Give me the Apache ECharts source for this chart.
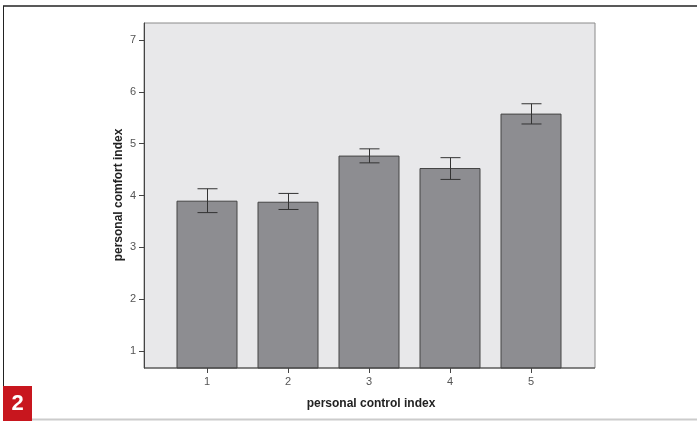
<!DOCTYPE html>
<html>
<head>
<meta charset="utf-8">
<script src="https://cdn.jsdelivr.net/npm/echarts@6/dist/echarts.min.js"></script>
<style>
  html, body { margin: 0; padding: 0; background: #ffffff; }
  #chart { width: 697px; height: 421px; }
</style>
</head>
<body>
<div id="chart"></div>
<script>
// Personal comfort by personal control level: means with error bars
const categories = ['1', '2', '3', '4', '5'];
const meanComfort = [3.90, 3.88, 4.77, 4.53, 5.58];
const errUpper = [4.13, 4.04, 4.90, 4.73, 5.77];
const errLower = [3.67, 3.73, 4.63, 4.31, 5.38];
const yTicks = [1, 2, 3, 4, 5, 6, 7];

const Y_MIN = 0.672, Y_MAX = 7.328;
const AXIS_FONT = 'Liberation Sans, Arial, sans-serif';

const chart = echarts.init(document.getElementById('chart'), null, { renderer: 'canvas' });

const errorData = categories.map((c, i) => [i, errLower[i], errUpper[i]]);

chart.setOption({
  animation: false,
  backgroundColor: '#ffffff',
  grid: [
    // plot frame with y axis
    { left: 144, top: 23, width: 451, height: 345, show: true,
      backgroundColor: '#e8e8ea', borderColor: '#8a8a8a', borderWidth: 1 },
    // band area holding the bars
    { left: 166.5, top: 23, width: 405, height: 345 }
  ],
  xAxis: [
    { gridIndex: 0, type: 'value', min: 0, max: 1, show: false },
    { gridIndex: 1, type: 'category', data: categories,
      axisLine: { show: false },
      axisTick: { show: true, alignWithLabel: true, length: 5, lineStyle: { color: '#444' } },
      axisLabel: { color: '#555', fontSize: 11, fontFamily: AXIS_FONT, margin: 8 } }
  ],
  yAxis: [
    { gridIndex: 0, type: 'value', min: Y_MIN, max: Y_MAX,
      axisLine: { show: true, lineStyle: { color: '#444' } },
      axisTick: { show: true, length: 5, customValues: yTicks, lineStyle: { color: '#444' } },
      axisLabel: { customValues: yTicks, color: '#555', fontSize: 11, fontFamily: AXIS_FONT, margin: 8 },
      splitLine: { show: false } },
    { gridIndex: 1, type: 'value', min: Y_MIN, max: Y_MAX, show: false, splitLine: { show: false } }
  ],
  graphic: [
    // outer figure frame
    { type: 'line', shape: { x1: 3, y1: 6, x2: 697, y2: 6 }, style: { stroke: '#222', lineWidth: 1.5 } },
    { type: 'line', shape: { x1: 3.5, y1: 6, x2: 3.5, y2: 386 }, style: { stroke: '#222', lineWidth: 1 } },
    { type: 'line', shape: { x1: 32, y1: 419.5, x2: 697, y2: 419.5 }, style: { stroke: '#cccccc', lineWidth: 2 } },
    // bottom axis line across the full frame
    { type: 'line', z: 10, shape: { x1: 144, y1: 368, x2: 595, y2: 368 }, style: { stroke: '#444', lineWidth: 1 } },
    { type: 'rect', shape: { x: 3, y: 386, width: 29, height: 35 }, style: { fill: '#c8161e' } },
    { type: 'text', x: 17.5, y: 404, style: { text: '2', fill: '#ffffff', font: 'bold 22px Liberation Sans, Arial, sans-serif', textAlign: 'center', textVerticalAlign: 'middle' } },
    // axis titles
    { type: 'text', x: 371, y: 404, style: { text: 'personal control index', fill: '#222', font: 'bold 12px Liberation Sans, Arial, sans-serif', textAlign: 'center', textVerticalAlign: 'middle' } },
    { type: 'text', x: 119, y: 195, rotation: Math.PI / 2, style: { text: 'personal comfort index', fill: '#222', font: 'bold 12px Liberation Sans, Arial, sans-serif', textAlign: 'center', textVerticalAlign: 'middle' } }
  ],
  series: [
    { type: 'bar', xAxisIndex: 1, yAxisIndex: 1, data: meanComfort, barWidth: 61,
      itemStyle: { color: '#8d8d91', borderColor: '#444', borderWidth: 1 } },
    { type: 'custom', xAxisIndex: 1, yAxisIndex: 1, data: errorData, z: 5,
      renderItem: function (params, api) {
        const idx = api.value(0);
        const lo = api.coord([idx, api.value(1)]);
        const hi = api.coord([idx, api.value(2)]);
        const half = 10;
        const st = { stroke: '#333', lineWidth: 1 };
        const x = Math.round(lo[0]) + 0.5;
        return { type: 'group', children: [
          { type: 'line', shape: { x1: x, y1: hi[1], x2: x, y2: lo[1] }, style: st },
          { type: 'line', shape: { x1: x - half, y1: hi[1], x2: x + half, y2: hi[1] }, style: st },
          { type: 'line', shape: { x1: x - half, y1: lo[1], x2: x + half, y2: lo[1] }, style: st }
        ] };
      } }
  ]
});
</script>
</body>
</html>
